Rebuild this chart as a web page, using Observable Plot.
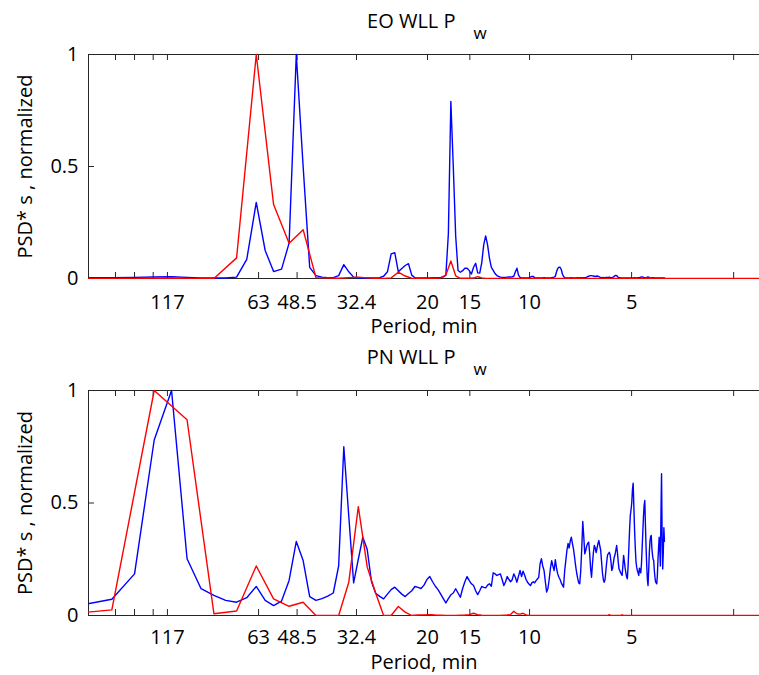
<!DOCTYPE html>
<html>
<head>
<meta charset="utf-8">
<script src="https://cdn.jsdelivr.net/npm/d3@7"></script>
<script src="https://cdn.jsdelivr.net/npm/@observablehq/plot@0.6"></script>
<style>
html, body { margin: 0; padding: 0; background: #fff; overflow: hidden; }
#chart { width: 759px; }
#chart svg { display: block; }
</style>
</head>
<body>
<div id="chart"></div>
<script>
// ---- axis definitions (periods in minutes; x is log frequency, labelled by period) ----
const periodTicks = [166.5, 146.3, 128.9, 117, 63, 48.5, 32.4, 20, 15, 10, 5, 2.5];
const periodLabels = [117, 63, 48.5, 32.4, 20, 15, 10, 5];
const yTicks = [0, 0.5, 1];
const recordLength = 1024; // minutes: frequency bin k  <->  period = recordLength / k

// ---- EO WLL Pw : blue series, consecutive frequency bins starting at k ----
const eoBlue = [
  {k: 5,   v: [0.004, 0.004, 0.005, 0.007, 0.008, 0.005, 0.003, 0.002, 0.002, 0.006]},
  {k: 15,  v: [0.085, 0.34, 0.125, 0.031, 0.042, 0.158, 1.0, 0.5, 0.05, 0.013]},
  {k: 25,  v: [0.006, 0.004, 0.004, 0.013, 0.062, 0.03, 0.006, 0.002, 0.002, 0.002]},
  {k: 35,  v: [0.003, 0.003, 0.004, 0.01, 0.03, 0.11, 0.115, 0.03, 0.045, 0.058]},
  {k: 45,  v: [0.066, 0.015, 0.003, 0.002, 0.002, 0.002, 0.003, 0.003, 0.004, 0.004]},
  {k: 55,  v: [0.004, 0.005, 0.007, 0.015, 0.2, 0.79, 0.5, 0.19, 0.036, 0.028]},
  {k: 65,  v: [0.035, 0.046, 0.046, 0.035, 0.02, 0.05, 0.068, 0.025, 0.024, 0.07]},
  {k: 75,  v: [0.15, 0.19, 0.15, 0.09, 0.05, 0.036, 0.022, 0.013, 0.009, 0.006]},
  {k: 85,  v: [0.005, 0.005, 0.005, 0.006, 0.007, 0.007, 0.008, 0.01, 0.03, 0.046]},
  {k: 95,  v: [0.015, 0.005, 0.002, 0.002, 0.003, 0.002, 0.003, 0.004, 0.006, 0.009]},
  {k: 105, v: [0.009, 0.004, 0.003, 0.002, 0.003, 0.003, 0.002, 0.003, 0.004, 0.003]},
  {k: 115, v: [0.003, 0.002, 0.003, 0.003, 0.004, 0.005, 0.006, 0.01, 0.03, 0.045]},
  {k: 125, v: [0.05, 0.05, 0.04, 0.02, 0.009, 0.004, 0.003, 0.003, 0.002, 0.003]},
  {k: 135, v: [0.003, 0.004, 0.003, 0.002, 0.003, 0.003, 0.003, 0.004, 0.003, 0.003]},
  {k: 145, v: [0.004, 0.004, 0.003, 0.004, 0.004, 0.004, 0.006, 0.008, 0.01, 0.012]},
  {k: 155, v: [0.013, 0.013, 0.012, 0.011, 0.01, 0.009, 0.01, 0.011, 0.01, 0.008]},
  {k: 165, v: [0.006, 0.005, 0.004, 0.004, 0.005, 0.004, 0.004, 0.005, 0.005, 0.005]},
  {k: 175, v: [0.005, 0.006, 0.005, 0.004, 0.004, 0.005, 0.007, 0.01, 0.013, 0.014]},
  {k: 185, v: [0.013, 0.009, 0.005, 0.004, 0.004, 0.003, 0.003, 0.003, 0.002, 0.003]},
  {k: 195, v: [0.003, 0.003, 0.002, 0.003, 0.003, 0.003, 0.003, 0.002, 0.003, 0.003]},
  {k: 205, v: [0.003, 0.002, 0.003, 0.003, 0.004, 0.003, 0.003, 0.003, 0.003, 0.004]},
  {k: 215, v: [0.004, 0.004, 0.005, 0.006, 0.007, 0.007, 0.006, 0.005, 0.004, 0.004]},
  {k: 225, v: [0.003, 0.003, 0.004, 0.006, 0.007, 0.006, 0.004, 0.003, 0.003, 0.003]},
  {k: 235, v: [0.004, 0.003, 0.003, 0.004, 0.003, 0.003, 0.002, 0.003, 0.003, 0.003]},
  {k: 245, v: [0.002, 0.003, 0.003, 0.003, 0.002, 0.003, 0.003, 0.003, 0.002, 0.003, 0.003, 0.003]}
];

// ---- EO WLL Pw : red series, [frequency bin k, value] ----
const eoRed = [
  [4, 0], [6, 0], [8, 0], [10, 0], [12, 0], [14, 0.092], [16, 1.0], [18, 0.33], [20, 0.157],
  [22, 0.218], [24, 0.004], [26, 0.002], [28, 0.001], [30, 0.004], [32, 0.006], [34, 0.003],
  [36, 0.001], [38, 0], [40, 0.003], [42, 0.028], [44, 0.011], [46, 0.001], [48, 0], [50, 0],
  [52, 0.001], [54, 0.001], [56, 0.003], [58, 0.015], [60, 0.078], [62, 0.012], [64, 0.001],
  [66, 0.001], [68, 0.001], [70, 0.002], [72, 0.008], [74, 0.003], [76, 0], [78, 0], [80, 0], [512, 0]
];

// ---- PN WLL Pw : blue series ----
const pnBlue = [
  {k: 5,   v: [0.05, 0.072, 0.185, 0.78, 1.0, 0.252, 0.119, 0.089, 0.067, 0.059]},
  {k: 15,  v: [0.079, 0.129, 0.067, 0.044, 0.064, 0.156, 0.329, 0.244, 0.084, 0.067]},
  {k: 25,  v: [0.075, 0.086, 0.1, 0.22, 0.75, 0.44, 0.145, 0.25, 0.348, 0.293]},
  {k: 35,  v: [0.15, 0.099, 0.085, 0.074, 0.095, 0.115, 0.126, 0.11, 0.095, 0.084]},
  {k: 45,  v: [0.098, 0.11, 0.129, 0.125, 0.12, 0.135, 0.16, 0.173, 0.15, 0.13]},
  {k: 55,  v: [0.115, 0.095, 0.075, 0.056, 0.075, 0.092, 0.1, 0.119, 0.1, 0.081]},
  {k: 65,  v: [0.12, 0.15, 0.173, 0.155, 0.141, 0.133, 0.11, 0.093, 0.11, 0.129]},
  {k: 75,  v: [0.125, 0.123, 0.135, 0.141, 0.13, 0.19, 0.185, 0.178, 0.182, 0.185]},
  {k: 85,  v: [0.16, 0.133, 0.15, 0.173, 0.16, 0.15, 0.159, 0.185, 0.17, 0.148]},
  {k: 95,  v: [0.175, 0.2, 0.173, 0.197, 0.18, 0.16, 0.148, 0.14, 0.133, 0.145]},
  {k: 105, v: [0.15, 0.145, 0.155, 0.162, 0.17, 0.23, 0.252, 0.22, 0.2, 0.15]},
  {k: 115, v: [0.104, 0.12, 0.16, 0.21, 0.244, 0.22, 0.2, 0.248, 0.21, 0.185]},
  {k: 125, v: [0.17, 0.16, 0.145, 0.135, 0.126, 0.2, 0.244, 0.29, 0.32, 0.3]},
  {k: 135, v: [0.33, 0.348, 0.32, 0.296, 0.26, 0.222, 0.19, 0.165, 0.145, 0.141]},
  {k: 145, v: [0.2, 0.3, 0.418, 0.35, 0.274, 0.29, 0.31, 0.32, 0.326, 0.28]},
  {k: 155, v: [0.21, 0.17, 0.23, 0.28, 0.311, 0.3, 0.28, 0.3, 0.32, 0.333]},
  {k: 165, v: [0.31, 0.29, 0.24, 0.19, 0.16, 0.148, 0.16, 0.2, 0.24, 0.27]},
  {k: 175, v: [0.275, 0.281, 0.27, 0.24, 0.2, 0.21, 0.235, 0.259, 0.27, 0.29]},
  {k: 185, v: [0.311, 0.28, 0.24, 0.207, 0.2, 0.19, 0.185, 0.178, 0.22, 0.267]},
  {k: 195, v: [0.24, 0.21, 0.19, 0.17, 0.163, 0.22, 0.3, 0.38, 0.444, 0.47]},
  {k: 205, v: [0.5, 0.56, 0.588, 0.48, 0.378, 0.3, 0.24, 0.215, 0.2, 0.19]},
  {k: 215, v: [0.178, 0.21, 0.2, 0.19, 0.23, 0.3, 0.37, 0.44, 0.49, 0.511]},
  {k: 225, v: [0.4, 0.3, 0.22, 0.16, 0.133, 0.2, 0.28, 0.33, 0.35, 0.356]},
  {k: 235, v: [0.3, 0.27, 0.25, 0.244, 0.2, 0.17, 0.15, 0.145, 0.141, 0.18]},
  {k: 245, v: [0.25, 0.3, 0.348, 0.3, 0.22, 0.45, 0.63, 0.35, 0.207, 0.28, 0.39, 0.33]}
];

// ---- PN WLL Pw : red series ----
const pnRed = [
  [4, 0], [6, 0.025], [8, 1.0], [10, 0.87], [12, 0.008], [14, 0.02], [16, 0.22], [18, 0.074],
  [20, 0.041], [22, 0.059], [24, 0], [26, 0], [28, 0], [30, 0.148], [32, 0.484], [34, 0.215],
  [36, 0.1], [38, 0], [40, 0], [42, 0.04], [44, 0.015], [46, 0], [48, 0.002], [50, 0.003],
  [52, 0.004], [54, 0.002], [56, 0.001], [58, 0], [60, 0], [62, 0], [64, 0.001], [66, 0.002],
  [68, 0.004], [70, 0.01], [72, 0.004], [74, 0.001], [76, 0], [78, 0], [80, 0], [82, 0], [84, 0],
  [86, 0.001], [88, 0.002], [90, 0.004], [92, 0.019], [94, 0.008], [96, 0.006], [98, 0.01],
  [100, 0.003], [102, 0], [104, 0], [174, 0], [176, 0.004], [178, 0], [190, 0], [192, 0.003],
  [194, 0], [512, 0]
];

const titles = ["EO WLL P", "PN WLL P"];
const subscript = "w";
const xLabel = "Period, min";
const yLabel = "PSD* s , normalized";

// ---- build tables ----
const fromSegments = segs => segs.flatMap(s => s.v.map((v, i) => ({period: recordLength / (s.k + i), v})));
const fromPairs = pairs => pairs.map(([k, v]) => ({period: recordLength / k, v}));

const FONT = "'Open Sans', 'DejaVu Sans', sans-serif";
const AXIS = "#262626";

function panel({title, blue, red, height, marginTop, marginBottom, tickDy, labelDy}) {
  const W = 759, L = 88, tl = 6;
  const xDomain = [200, 2], xRange = [L, 766];
  const yRange = [height - marginBottom - 1, marginTop + 1];
  const xs = d3.scaleLog().domain(xDomain).range(xRange);
  const ys = d3.scaleLinear().domain([0, 1]).range(yRange);
  const yTickX2 = xs.invert(L + tl);
  const bottomTickY2 = ys.invert(yRange[0] - tl);
  const topTickY1 = ys.invert(yRange[1] + tl);
  return Plot.plot({
    width: W, height, marginLeft: L, marginRight: 0, marginTop, marginBottom,
    style: {fontFamily: FONT, fontSize: "20px", background: "#fff", color: "#000"},
    x: {type: "log", domain: xDomain, range: xRange, axis: null},
    y: {domain: [0, 1], range: yRange, axis: null},
    marks: [
      // box and ticks
      Plot.ruleY([0, 1], {stroke: AXIS, strokeWidth: 1}),
      Plot.ruleX([xDomain[0]], {y1: 0, y2: 1, stroke: AXIS, strokeWidth: 1}),
      Plot.ruleX(periodTicks, {x: d => d, y1: 0, y2: bottomTickY2, stroke: AXIS, strokeWidth: 1}),
      Plot.ruleX(periodTicks, {x: d => d, y1: topTickY1, y2: 1, stroke: AXIS, strokeWidth: 1}),
      Plot.ruleY(yTicks, {y: d => d, x1: xDomain[0], x2: yTickX2, stroke: AXIS, strokeWidth: 1}),
      // data
      Plot.line(blue, {x: "period", y: "v", stroke: "#0000ff", strokeWidth: 1.4, clip: true}),
      Plot.line(red, {x: "period", y: "v", stroke: "#ff0000", strokeWidth: 1.4, clip: true}),
      // tick labels
      Plot.text(yTicks, {y: d => d, text: d => String(d), frameAnchor: "left", dx: -10,
        textAnchor: "end", fontSize: 20, fill: "#000"}),
      Plot.text(periodLabels, {x: d => d, text: d => String(d), frameAnchor: "bottom",
        lineAnchor: "bottom", dy: tickDy, fontSize: 20, fill: "#000"}),
      // axis titles
      Plot.text([xLabel], {text: d => d, frameAnchor: "bottom", lineAnchor: "bottom",
        dy: labelDy, fontSize: 20, fill: "#000"}),
      Plot.text([yLabel], {text: d => d, frameAnchor: "left", rotate: -90, textAnchor: "middle",
        lineAnchor: "bottom", dx: -57, fontSize: 20, fill: "#000"}),
      // panel title with subscript
      Plot.text([title], {text: d => d, frameAnchor: "top", textAnchor: "end", lineAnchor: "bottom",
        dx: 31.5, dy: -26, fontSize: 20, fill: "#000"}),
      Plot.text([subscript], {text: d => d, frameAnchor: "top", textAnchor: "start", lineAnchor: "bottom",
        dx: 49.5, dy: -15, fontSize: 17, fill: "#000"})
    ]
  });
}

const chart = document.getElementById("chart");
chart.append(panel({
  title: titles[0], blue: fromSegments(eoBlue), red: fromPairs(eoRed),
  height: 340, marginTop: 53, marginBottom: 61, tickDy: 29, labelDy: 53
}));
chart.append(panel({
  title: titles[1], blue: fromSegments(pnBlue), red: fromPairs(pnRed),
  height: 335, marginTop: 49, marginBottom: 59, tickDy: 27, labelDy: 52
}));
</script>
</body>
</html>
